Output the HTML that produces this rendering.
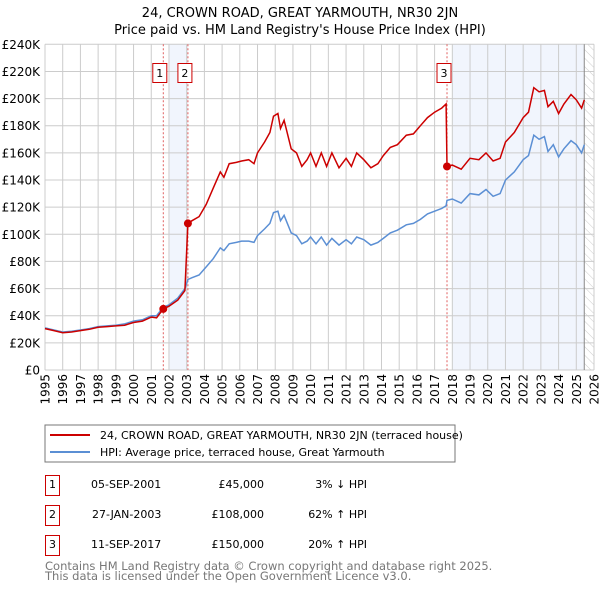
<!DOCTYPE html>
<html><head><meta charset="utf-8"><style>
body{margin:0;background:#fff;font-family:"Liberation Sans","DejaVu Sans",sans-serif;}
svg text{font-family:"DejaVu Sans","Liberation Sans",sans-serif;}
</style></head><body>
<svg id="chart" width="600" height="590" xmlns="http://www.w3.org/2000/svg">
<defs><pattern id="hatch" width="6" height="6" patternUnits="userSpaceOnUse" patternTransform="rotate(-45)"><line x1="0" y1="0" x2="0" y2="6" stroke="#ccc" stroke-width="1"/></pattern></defs>
<text x="300" y="17" text-anchor="middle" font-size="13" fill="#000">24, CROWN ROAD, GREAT YARMOUTH, NR30 2JN</text>
<text x="300" y="34" text-anchor="middle" font-size="13" fill="#000">Price paid vs. HM Land Registry's House Price Index (HPI)</text>
<g id="plot"></g>
<rect x="45" y="425" width="410" height="37" fill="#fff" stroke="#777"/>
<line x1="50" y1="435" x2="90" y2="435" stroke="#cc0000" stroke-width="2"/>
<text x="100" y="439" font-size="11">24, CROWN ROAD, GREAT YARMOUTH, NR30 2JN (terraced house)</text>
<line x1="50" y1="452" x2="90" y2="452" stroke="#5b8fd4" stroke-width="2"/>
<text x="100" y="456" font-size="11">HPI: Average price, terraced house, Great Yarmouth</text>
<g font-size="11">
<rect x="45.5" y="475.5" width="14" height="20" fill="#fff" stroke="#c00"/><text x="52.5" y="488" text-anchor="middle">1</text>
<text x="91" y="488">05-SEP-2001</text><text x="264" y="488" text-anchor="end">£45,000</text><text x="367" y="488" text-anchor="end">3% ↓ HPI</text>
<rect x="45.5" y="505.5" width="14" height="20" fill="#fff" stroke="#c00"/><text x="52.5" y="518" text-anchor="middle">2</text>
<text x="92" y="518">27-JAN-2003</text><text x="264" y="518" text-anchor="end">£108,000</text><text x="367" y="518" text-anchor="end">62% ↑ HPI</text>
<rect x="45.5" y="535.5" width="14" height="20" fill="#fff" stroke="#c00"/><text x="52.5" y="548" text-anchor="middle">3</text>
<text x="91" y="548">11-SEP-2017</text><text x="264" y="548" text-anchor="end">£150,000</text><text x="367" y="548" text-anchor="end">20% ↑ HPI</text>
</g>
<text x="45" y="570" font-size="11.5" fill="#777">Contains HM Land Registry data © Crown copyright and database right 2025.</text>
<text x="45" y="580" font-size="11.5" fill="#777">This data is licensed under the Open Government Licence v3.0.</text>
</svg>
<script>
const times=[1995.0,1995.5,1996.0,1996.5,1997.0,1997.5,1998.0,1998.5,1999.0,1999.5,2000.0,2000.5,2001.0,2001.3,2001.68,2002.0,2002.5,2002.9,2003.07,2003.3,2003.7,2004.1,2004.5,2004.9,2005.1,2005.4,2005.8,2006.1,2006.5,2006.8,2007.0,2007.4,2007.7,2007.9,2008.15,2008.3,2008.5,2008.9,2009.2,2009.5,2009.8,2010.0,2010.3,2010.6,2010.9,2011.2,2011.6,2012.0,2012.3,2012.6,2013.0,2013.4,2013.8,2014.1,2014.5,2014.9,2015.4,2015.8,2016.2,2016.6,2017.0,2017.4,2017.65,2017.7,2018.0,2018.5,2019.0,2019.5,2019.9,2020.3,2020.7,2021.0,2021.5,2022.0,2022.3,2022.6,2022.9,2023.2,2023.4,2023.7,2024.0,2024.3,2024.7,2025.0,2025.3,2025.45];
const hpi=[31,29.5,28,28.5,29.5,30.5,32,32.5,33,34,36,37,40,40,46.4,48,53,60,66.7,68,70,76,82,90,88,93,94,95,95,94,99,104,108,116,117,110,114,101,99,93,95,98,93,98,92,97,92,96,93,98,96,92,94,97,101,103,107,108,111,115,117,119,121,125,126,123,130,129,133,128,130,140,146,155,158,173,170,172,161,166,157,163,169,166,160,166];
const price=[30.5,29,27.5,28,29,30,31.5,32,32.5,33,35,36,39,38.5,45,47,51.5,58.5,108,110,113,122,134,146,142,152,153,154,155,152,160,168,175,187,189,178,184,163,160,150,155,160,150,160,150,160,149,156,150,160,155,149,152,158,164,166,173,174,180,186,190,193,196,150,151,148,156,155,160,154,156,168,175,186,190,208,205,206,194,198,189,196,203,199,193,199];
const saleTimes=[2001.68,2003.07,2017.7];
const saleValues=[45,108,150];
const yTicks=[0,20,40,60,80,100,120,140,160,180,200,220,240];
const xYears=[1995,1996,1997,1998,1999,2000,2001,2002,2003,2004,2005,2006,2007,2008,2009,2010,2011,2012,2013,2014,2015,2016,2017,2018,2019,2020,2021,2022,2023,2024,2025,2026];
const X0=45,X1=594,Y0=370,Y1=44.3;
const xs=t=>X0+(t-1995)/(2026-1995)*(X1-X0);
const ys=v=>Y0-v/240*(Y0-Y1);
const NS="http://www.w3.org/2000/svg";
const g=document.getElementById('plot');
function mk(tag,attrs){const e=document.createElementNS(NS,tag);for(const k in attrs)e.setAttribute(k,attrs[k]);g.appendChild(e);return e;}
let e;
e=mk('rect',{x:xs(2002),y:Y1,width:xs(saleTimes[1])-xs(2002),height:Y0-Y1,fill:'#eef3fc',opacity:0.8});


e=mk('rect',{x:xs(2018),y:Y1,width:xs(2025.45)-xs(2018),height:Y0-Y1,fill:'#eef3fc',opacity:0.8});


e=mk('rect',{x:xs(2025.45),y:Y1,width:X1-xs(2025.45),height:Y0-Y1,fill:'url(#hatch)'});


yTicks.forEach(v=>{
 e=mk('line',{x1:X0,x2:X1,y1:ys(v),y2:ys(v),stroke:'#ccc','stroke-width':1});
 
 
 e=mk('text',{x:40,y:ys(v)+4.5,'text-anchor':'end','font-size':12});
 e.textContent=v===0?'£0':'£'+v+'K';
 
 
});
xYears.forEach(yr=>{
 e=mk('line',{x1:xs(yr),x2:xs(yr),y1:Y1,y2:Y0,stroke:'#ccc','stroke-width':1});
 
 
 e=mk('text',{x:0,y:0,'text-anchor':'end','font-size':12,transform:`translate(${xs(yr)+4.5},${Y0+4}) rotate(-90)`});
 e.textContent=yr;
 
 
});
e=mk('line',{x1:xs(2025.45),x2:xs(2025.45),y1:Y1,y2:Y0,stroke:'#888','stroke-width':1});


saleTimes.forEach((t,i)=>{
 e=mk('line',{x1:xs(t),x2:xs(t),y1:Y1,y2:Y0,stroke:'#e06060','stroke-width':1,'stroke-dasharray':'2,2'});
 
 
});
const pts=a=>times.map((t,i)=>xs(t).toFixed(1)+','+ys(a[i]).toFixed(1)).join(' ');
e=mk('polyline',{points:pts(hpi),fill:'none',stroke:'#5b8fd4','stroke-width':1.5});


e=mk('polyline',{points:pts(price),fill:'none',stroke:'#cc0000','stroke-width':1.5});


saleTimes.forEach((t,i)=>{
 e=mk('circle',{cx:xs(t),cy:ys(saleValues[i]),r:4,fill:'#cc0000'});
 
 
 const bx=i===0?xs(t)-4:xs(t)-4;
 const cx=i===0?xs(t)-3.5:xs(t)-3;
 e=mk('rect',{x:cx-7,y:63.5,width:14,height:19,fill:'#fff',stroke:'#c00'});
 
 
 e=mk('text',{x:cx,y:77,'text-anchor':'middle','font-size':11});
 e.textContent=String(i+1);
 
 
});
</script>
</body></html>
